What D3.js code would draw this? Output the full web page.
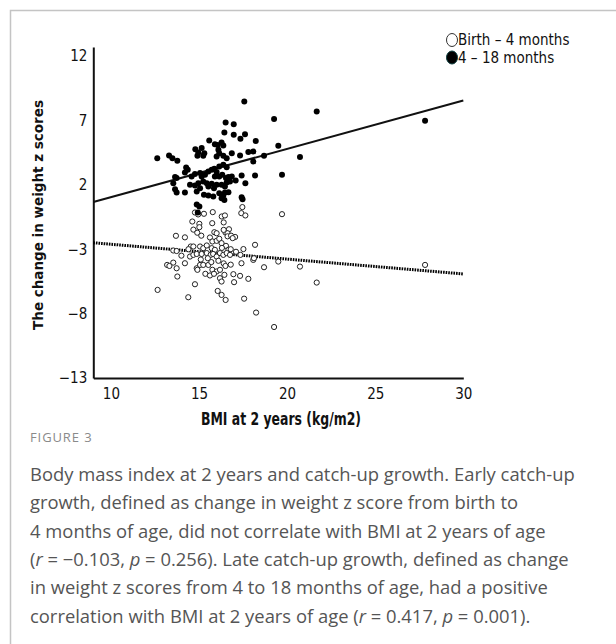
<!DOCTYPE html>
<html>
<head>
<meta charset="utf-8">
<script src="https://cdn.jsdelivr.net/npm/d3@7"></script>
<style>
  body { margin: 0; background: #fff; }
  svg { display: block; }
</style>
</head>
<body>
<svg id="svg" width="616" height="644"></svg>
<script>
// change in weight z score, 4 - 18 months  [BMI at 2 years, change]
const lateGrowth = [
  [17.57, 8.47], [21.68, 7.70], [19.26, 7.10], [16.51, 6.84], [16.97, 6.71], [16.44, 6.06],
  [16.97, 5.88], [17.61, 5.93], [17.35, 5.57], [18.22, 5.41], [15.58, 5.44], [15.90, 5.15],
  [16.06, 5.10], [16.28, 5.28], [16.38, 5.05], [14.79, 4.77], [14.96, 4.51], [14.91, 4.25],
  [15.15, 4.85], [15.30, 4.46], [15.24, 4.25], [16.10, 4.72], [16.15, 4.46], [16.00, 4.20],
  [16.38, 4.25], [16.57, 4.07], [16.86, 4.46], [17.33, 4.28], [17.80, 4.54], [18.08, 4.59],
  [18.69, 4.25], [19.50, 5.03], [20.73, 4.15], [12.63, 4.07], [13.30, 4.28], [13.49, 4.07],
  [13.77, 3.86], [14.27, 3.34], [14.36, 3.17], [14.20, 2.96], [13.64, 2.60], [13.73, 2.52],
  [13.54, 2.13], [13.64, 1.66], [13.73, 1.40], [14.20, 1.40], [14.58, 2.65], [14.77, 2.83],
  [15.06, 2.91], [15.15, 2.65], [15.34, 2.78], [15.53, 3.04], [15.72, 3.17], [15.87, 3.25],
  [16.00, 2.99], [16.15, 3.43], [16.38, 3.55], [16.57, 3.37], [15.90, 2.65], [16.15, 2.65],
  [16.32, 2.78], [16.53, 2.52], [16.67, 2.60], [16.86, 2.65], [18.08, 3.81], [18.18, 2.73],
  [19.71, 2.78], [17.42, 2.73], [17.08, 2.34], [17.63, 2.13], [14.49, 2.00], [14.77, 1.95],
  [14.96, 2.13], [15.24, 2.26], [15.44, 2.13], [15.53, 1.87], [15.72, 2.08], [15.85, 1.74],
  [16.00, 2.00], [16.28, 2.00], [16.47, 1.87], [16.57, 2.18], [16.76, 2.26], [14.87, 1.48],
  [15.06, 1.74], [15.28, 1.22], [15.53, 1.17], [15.81, 1.09], [16.15, 1.35], [16.38, 1.17],
  [16.47, 1.40], [16.67, 1.43], [16.28, 0.96], [16.44, 0.83], [17.42, 1.04], [17.47, 0.88],
  [14.87, 0.48], [15.02, 0.32], [14.93, -0.15], [27.83, 6.97]
];

// change in weight z score, birth - 4 months
const earlyGrowth = [
  [17.46, 0.27], [17.40, -0.20], [17.63, -0.38], [19.71, -0.28], [14.77, -0.15], [14.95, -0.30],
  [15.28, -0.25], [15.78, -0.12], [16.29, -0.46], [16.47, -0.38], [14.62, -0.85], [15.02, -1.03],
  [15.02, -1.29], [15.75, -0.98], [16.40, -0.92], [16.70, -1.45], [16.50, -1.70], [16.62, -1.76],
  [16.40, -1.50], [14.68, -1.48], [14.90, -1.72], [15.13, -1.95], [15.87, -1.68], [16.00, -1.76],
  [13.69, -1.96], [14.20, -2.08], [15.62, -2.09], [15.76, -2.40], [16.00, -2.35], [16.15, -2.19],
  [16.28, -2.53], [16.62, -2.00], [16.82, -1.95], [17.05, -2.05], [16.91, -2.14], [18.18, -2.66],
  [14.53, -2.79], [14.68, -2.79], [15.06, -2.79], [15.24, -2.92], [15.44, -2.71], [15.72, -2.92],
  [15.90, -3.05], [16.53, -2.74], [16.67, -3.05], [16.80, -3.00], [17.52, -2.99], [13.54, -3.10],
  [13.73, -3.14], [14.49, -3.57], [14.68, -3.44], [14.87, -3.37], [15.15, -3.37], [15.44, -3.30],
  [15.66, -3.44], [15.80, -3.37], [16.00, -3.57], [16.19, -3.30], [16.38, -3.44], [16.57, -3.30],
  [16.76, -3.44], [17.35, -3.44], [18.08, -3.83], [18.12, -3.70], [14.20, -4.09], [13.19, -4.22],
  [13.32, -4.30], [13.54, -4.04], [13.73, -4.48], [13.77, -5.12], [14.87, -4.48], [14.91, -4.60],
  [15.06, -4.22], [15.24, -4.22], [15.53, -4.22], [15.70, -4.00], [16.10, -3.90], [16.40, -4.10],
  [15.76, -4.60], [16.00, -4.73], [16.19, -4.60], [16.50, -4.30], [16.80, -4.20], [15.36, -4.91],
  [15.62, -5.04], [15.85, -4.91], [16.19, -5.25], [16.28, -5.51], [16.44, -4.99], [16.95, -4.94],
  [17.33, -5.07], [17.80, -5.30], [16.99, -5.56], [17.41, -4.09], [18.69, -4.40], [19.50, -3.96],
  [20.73, -4.35], [21.68, -5.59], [27.83, -4.22], [14.77, -5.72], [12.65, -6.16], [14.39, -6.73],
  [16.06, -6.24], [16.28, -6.55], [16.51, -6.94], [17.56, -6.84], [18.24, -7.92], [19.26, -9.04],
  [14.00, -3.50], [15.10, -3.80], [15.50, -3.70], [14.40, -3.00], [16.30, -2.90], [17.10, -3.20]
];

// fitted lines, read at the two ends of the x axis
const lateFit = [[9, 0.66], [30, 8.55]];
const earlyFit = [[9, -2.5], [30, -4.92]];

const xTicks = [10, 15, 20, 25, 30];
const yTicks = [-13, -8, -3, 2, 7, 12];
const legendLabels = ["Birth \u2013 4 months", "4 \u2013 18 months"];

const captionLines = [
  [["Body mass index at 2 years and catch-up growth. Early catch-up"]],
  [["growth, defined as change in weight z score from birth to"]],
  [["4 months of age, did not correlate with BMI at 2 years of age"]],
  [["("], ["r", 1], [" = \u22120.103, "], ["p", 1], [" = 0.256). Late catch-up growth, defined as change"]],
  [["in weight z scores from 4 to 18 months of age, had a positive"]],
  [["correlation with BMI at 2 years of age ("], ["r", 1], [" = 0.417, "], ["p", 1], [" = 0.001)."]]
];

const svg = d3.select("#svg");
const tickFont = "'Liberation Sans Narrow', 'DejaVu Sans Condensed', sans-serif";

// card frame
svg.append("path")
  .attr("d", "M10.5,644 V10.5 H616")
  .attr("fill", "none")
  .attr("stroke", "#c4c4c4")
  .attr("stroke-width", 1.5);

const x = d3.scaleLinear().domain([9, 30]).range([93.3, 463.3]);
const y = d3.scaleLinear().domain([-13, 12.7]).range([378, 47]);

// axes
const gx = svg.append("g")
  .attr("transform", "translate(0," + y(-13) + ")")
  .call(d3.axisBottom(x).tickValues(xTicks).tickSize(0).tickPadding(10).tickFormat(d3.format("d")));
gx.select(".domain").attr("stroke", "#111").attr("stroke-width", 2);
gx.selectAll("text").attr("font-family", tickFont).attr("font-size", 15).attr("fill", "#111");

const gy = svg.append("g")
  .attr("transform", "translate(" + x(9) + ",0)")
  .call(d3.axisLeft(y).tickValues(yTicks).tickSize(0).tickPadding(6).tickFormat(d3.format("d")));
gy.select(".domain").attr("stroke", "#111").attr("stroke-width", 2);
gy.selectAll("text").attr("font-family", tickFont).attr("font-size", 15).attr("fill", "#111");

// axis labels
svg.append("text")
  .attr("x", 281)
  .attr("y", 425)
  .attr("text-anchor", "middle")
  .attr("font-family", tickFont)
  .attr("font-weight", "bold")
  .attr("font-size", 17.5)
  .attr("textLength", 160)
  .attr("lengthAdjust", "spacingAndGlyphs")
  .attr("fill", "#111")
  .text("BMI at 2 years (kg/m2)");

svg.append("text")
  .attr("transform", "translate(43,215) rotate(-90)")
  .attr("text-anchor", "middle")
  .attr("font-family", "'DejaVu Sans', sans-serif")
  .attr("font-weight", "bold")
  .attr("font-size", 13.5)
  .attr("fill", "#111")
  .text("The change in weight z scores");

// regression lines
const line = d3.line().x(d => x(d[0])).y(d => y(d[1]));
svg.append("path")
  .attr("d", line(lateFit))
  .attr("fill", "none")
  .attr("stroke", "#111")
  .attr("stroke-width", 2);
svg.append("path")
  .attr("d", line(earlyFit))
  .attr("fill", "none")
  .attr("stroke", "#000")
  .attr("stroke-width", 3)
  .attr("stroke-dasharray", "1.6,1");

// points
svg.append("g").selectAll("circle")
  .data(earlyGrowth)
  .enter()
  .append("circle")
  .attr("cx", d => x(d[0]))
  .attr("cy", d => y(d[1]))
  .attr("r", 2.6)
  .attr("fill", "#fff")
  .attr("stroke", "#222")
  .attr("stroke-width", 1);

svg.append("g").selectAll("circle")
  .data(lateGrowth)
  .enter()
  .append("circle")
  .attr("cx", d => x(d[0]))
  .attr("cy", d => y(d[1]))
  .attr("r", 3)
  .attr("fill", "#000");

// legend
const legend = svg.append("g").attr("transform", "translate(452,40)");
legendLabels.forEach((label, i) => {
  legend.append("ellipse")
    .attr("cx", 0)
    .attr("cy", i * 17.5)
    .attr("rx", 5.5)
    .attr("ry", 6.5)
    .attr("fill", i === 0 ? "#fff" : "#000")
    .attr("stroke", i === 0 ? "#333" : "#0a3a3a")
    .attr("stroke-width", 1);
  legend.append("text")
    .attr("x", 6)
    .attr("y", i * 17.5 + 5)
    .attr("font-family", tickFont)
    .attr("font-size", 15)
    .attr("fill", "#111")
    .text(label);
});

// figure caption
svg.append("text")
  .attr("x", 30)
  .attr("y", 442)
  .attr("font-family", "'Open Sans', sans-serif")
  .attr("font-size", 13)
  .attr("letter-spacing", 0.9)
  .attr("fill", "#8a8a8a")
  .text("FIGURE 3");

const caption = svg.append("text")
  .attr("font-family", "'Open Sans', sans-serif")
  .attr("font-size", 18.4)
  .attr("fill", "#555");
captionLines.forEach((parts, i) => {
  const row = caption.append("tspan").attr("x", 30).attr("y", 481 + i * 28.3);
  parts.forEach(p => {
    row.append("tspan")
      .attr("font-style", p[1] ? "italic" : null)
      .text(p[0]);
  });
});
</script>
</body>
</html>
